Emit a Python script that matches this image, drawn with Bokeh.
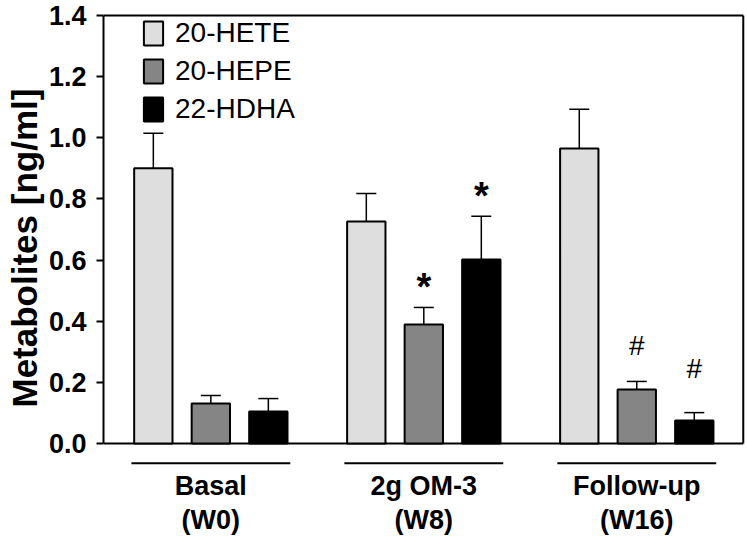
from bokeh.plotting import figure
from bokeh.models import (Range1d, FixedTicker, PrintfTickFormatter, ColumnDataSource,
                          Whisker, TeeHead, Legend, LegendItem, Title)
from bokeh.core.properties import value
from bokeh.embed import file_html
from bokeh.resources import INLINE

# ---------------- data ----------------
groups = ["Basal", "2g OM-3", "Follow-up"]
weeks = ["(W0)", "(W8)", "(W16)"]
series = ["20-HETE", "20-HEPE", "22-HDHA"]
hete_mean = [0.900, 0.726, 0.965]
hete_err = [0.115, 0.092, 0.128]
hepe_mean = [0.131, 0.389, 0.177]
hepe_err = [0.026, 0.056, 0.026]
hdha_mean = [0.105, 0.602, 0.075]
hdha_err = [0.042, 0.141, 0.026]
y_ticks = [0.0, 0.2, 0.4, 0.6, 0.8, 1.0, 1.2, 1.4]
y_label = "Metabolites [ng/ml]"
# significance marks: group index, series index, vertical position
star_group = [1, 1]
star_series = [1, 2]
star_y = [0.511, 0.809]
hash_group = [2, 2]
hash_series = [1, 2]
hash_y = [0.321, 0.246]

# ---------------- style / layout ----------------
FONT = "Liberation Sans"
colors = ["#dedede", "#858585", "#000000"]
offsets = [-0.27, 0.0, 0.27]
BAR_W = 0.18
Y_MAX = 1.4
X_START = -0.504
RIGHT = len(groups) - 0.5
LINE_Y = -0.065
NAME_Y = -0.138
WEEK_Y = -0.250
HALF_LINE = 0.373

p = figure(width=745, height=537, output_backend="svg", toolbar_location=None,
           x_range=Range1d(X_START, 2.5105), y_range=Range1d(-0.30748, 1.40654),
           min_border_left=102, min_border_right=0, min_border_top=13, min_border_bottom=0,
           x_axis_location=None, outline_line_color=None)
p.grid.visible = False
p.background_fill_color = "white"
p.border_fill_color = "white"

ax = p.yaxis[0]
ax.bounds = (0, Y_MAX)
ax.ticker = FixedTicker(ticks=y_ticks)
ax.formatter = PrintfTickFormatter(format="%.1f")
ax.axis_line_width = 2
ax.axis_line_color = "black"
ax.major_tick_line_width = 2
ax.major_tick_line_color = "black"
ax.major_tick_out = 7
ax.major_tick_in = 0
ax.minor_tick_line_color = None
ax.major_label_standoff = 10
ax.major_label_text_font = FONT
ax.major_label_text_font_style = "bold"
ax.major_label_text_font_size = "27px"
ax.major_label_text_color = "black"

p.add_layout(Title(text=y_label, align="left", offset=130, standoff=4,
                   text_font=FONT, text_font_size="35px", text_font_style="bold",
                   text_color="black"), "left")

# frame lines (bottom, top, right)
p.segment(x0=[X_START, X_START, RIGHT], y0=[0, Y_MAX, 0],
          x1=[RIGHT, RIGHT, RIGHT], y1=[0, Y_MAX, Y_MAX],
          line_width=2, line_color="black")

means = [hete_mean, hepe_mean, hdha_mean]
errs = [hete_err, hepe_err, hdha_err]
renderers = []
for i in range(3):
    xs = [g + offsets[i] for g in range(len(groups))]
    src = ColumnDataSource(dict(x=xs, top=means[i],
                                upper=[m + e for m, e in zip(means[i], errs[i])]))
    w = Whisker(source=src, base="x", lower="top", upper="upper",
                lower_head=None,
                upper_head=TeeHead(size=20, line_width=1.5, line_color="black"),
                line_width=1.5, line_color="black", level="underlay")
    p.add_layout(w)
    r = p.vbar(x="x", top="top", width=BAR_W, bottom=0, source=src,
               fill_color=colors[i], line_color="black", line_width=2)
    renderers.append(r)

legend = Legend(items=[LegendItem(label=s, renderers=[r]) for s, r in zip(series, renderers)],
                location=(38, 412), padding=0, margin=0, spacing=6,
                glyph_width=24, glyph_height=30, label_height=30, label_standoff=10,
                label_text_font=FONT, label_text_font_size="28px", label_text_color="black",
                border_line_color=None, background_fill_alpha=0)
p.add_layout(legend)

# significance marks
p.text(x=[g + offsets[s] for g, s in zip(star_group, star_series)], y=star_y,
       text=["*"] * len(star_y), text_font=value(FONT), text_font_size="38px",
       text_font_style="bold", text_align="center", text_baseline="middle", text_color="black")
p.text(x=[g + offsets[s] for g, s in zip(hash_group, hash_series)], y=hash_y,
       text=["#"] * len(hash_y), text_font=value(FONT), text_font_size="28px",
       text_align="center", text_baseline="middle", text_color="black")

# group underlines and labels
gx = list(range(len(groups)))
p.segment(x0=[g - HALF_LINE for g in gx], y0=LINE_Y, x1=[g + HALF_LINE for g in gx], y1=LINE_Y,
          line_width=2, line_color="black")
p.text(x=gx, y=NAME_Y, text=groups, text_font=value(FONT), text_font_style="bold",
       text_font_size="27px", text_align="center", text_baseline="middle", text_color="black")
p.text(x=gx, y=WEEK_Y, text=weeks, text_font=value(FONT), text_font_style="bold",
       text_font_size="27px", text_align="center", text_baseline="middle", text_color="black")

open("out.html", "w").write(file_html(p, INLINE))
